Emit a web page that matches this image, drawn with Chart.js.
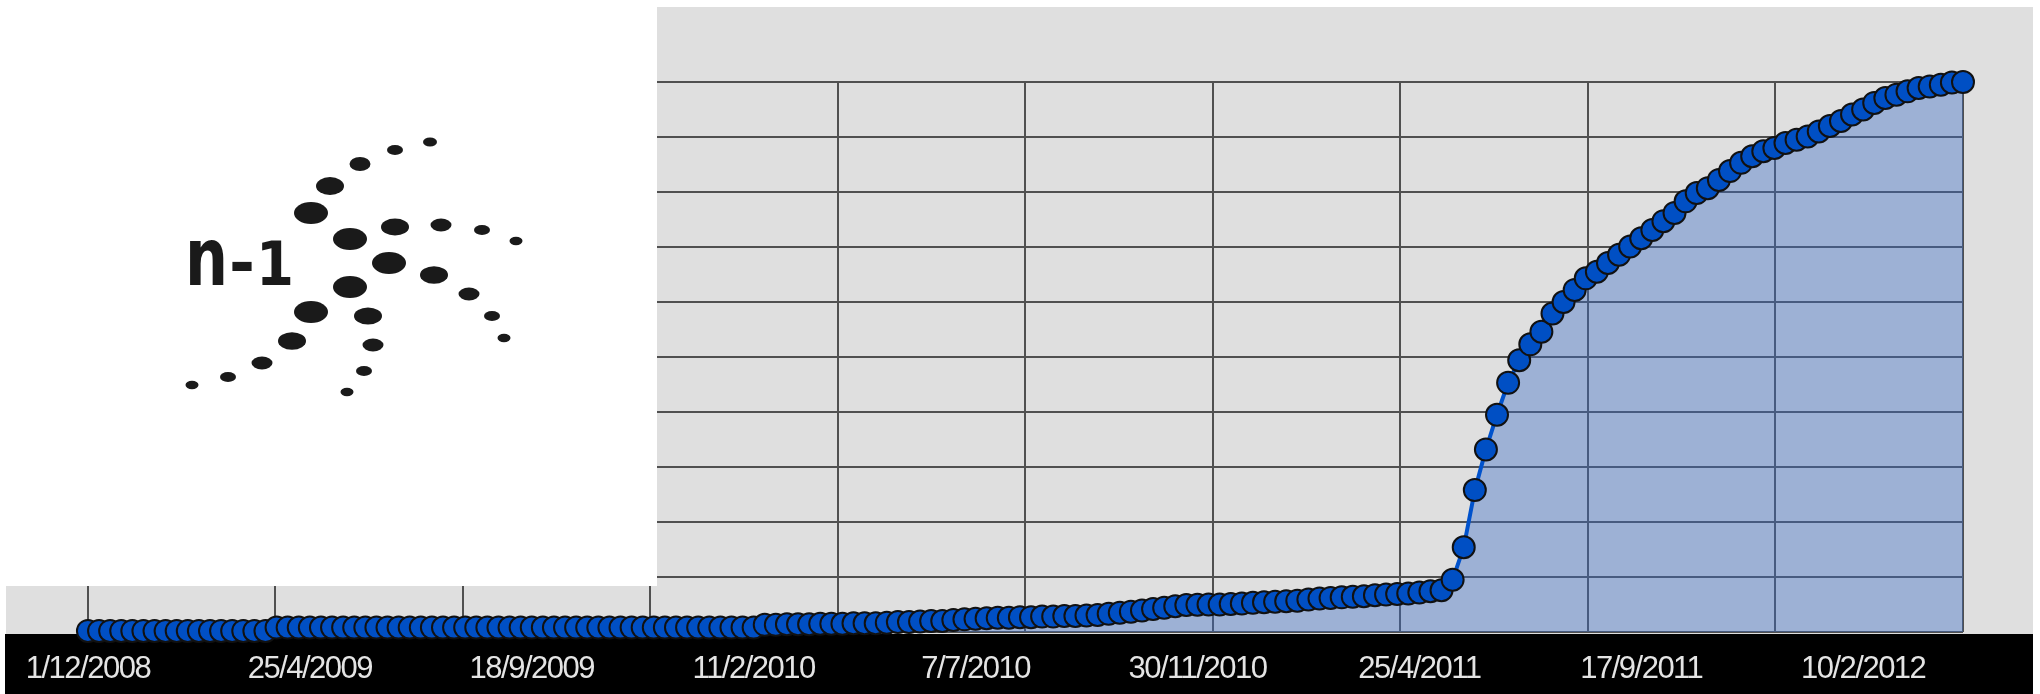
<!DOCTYPE html>
<html>
<head>
<meta charset="utf-8">
<title>n-1</title>
<script src="https://cdn.jsdelivr.net/npm/chart.js@4.4.1/dist/chart.umd.min.js"></script>
<style>
  html, body { margin: 0; padding: 0; background: #fff; }
  #wrap { position: relative; width: 2040px; height: 694px; overflow: hidden; }
  #chart { position: absolute; left: 0; top: 0; }
  #logo { position: absolute; left: 0; top: 0; width: 657px; height: 586px; background: #fff; }
</style>
</head>
<body>
<div id="wrap">
  <canvas id="chart" width="2040" height="694"></canvas>
  <div id="logo">
    <svg width="657" height="586" viewBox="0 0 657 586" xmlns="http://www.w3.org/2000/svg">
      <g fill="#1a1a1a" font-family="DejaVu Sans" font-weight="bold">
        <text x="185" y="285" font-size="80" textLength="43" lengthAdjust="spacingAndGlyphs">n</text>
        <text x="229" y="285" font-size="64" textLength="26" lengthAdjust="spacingAndGlyphs">-</text>
        <text x="256" y="285" font-size="60" textLength="38" lengthAdjust="spacingAndGlyphs">1</text>
      </g>
      <g fill="#1a1a1a">
        <ellipse cx="430" cy="142" rx="7" ry="4.5"/>
        <ellipse cx="395" cy="150" rx="8" ry="5"/>
        <ellipse cx="360" cy="164" rx="10.5" ry="7"/>
        <ellipse cx="330" cy="186" rx="14" ry="9"/>
        <ellipse cx="311" cy="213" rx="17" ry="11"/>
        <ellipse cx="350" cy="239" rx="17" ry="11"/>
        <ellipse cx="395" cy="227" rx="14" ry="8.5"/>
        <ellipse cx="441" cy="225" rx="10.5" ry="6.5"/>
        <ellipse cx="482" cy="230" rx="8" ry="5"/>
        <ellipse cx="516" cy="241" rx="6.5" ry="4.2"/>
        <ellipse cx="389" cy="263" rx="17" ry="11"/>
        <ellipse cx="434" cy="275" rx="14" ry="8.8"/>
        <ellipse cx="469" cy="294" rx="10.5" ry="6.5"/>
        <ellipse cx="492" cy="316" rx="8" ry="5"/>
        <ellipse cx="504" cy="338" rx="6.5" ry="4.2"/>
        <ellipse cx="350" cy="287" rx="17" ry="11"/>
        <ellipse cx="311" cy="312" rx="17" ry="11"/>
        <ellipse cx="368" cy="316" rx="14" ry="8.6"/>
        <ellipse cx="292" cy="341" rx="14" ry="8.8"/>
        <ellipse cx="373" cy="345" rx="10.5" ry="6.5"/>
        <ellipse cx="262" cy="363" rx="10.5" ry="6.5"/>
        <ellipse cx="364" cy="371" rx="8" ry="5"/>
        <ellipse cx="228" cy="377" rx="8" ry="5"/>
        <ellipse cx="192" cy="385" rx="6.5" ry="4.2"/>
        <ellipse cx="347" cy="392" rx="6.5" ry="4.2"/>
      </g>
    </svg>
  </div>
</div>
<script>
// x tick labels and the point index they sit on
const tickLabels = ['1/12/2008', '25/4/2009', '18/9/2009', '11/2/2010', '7/7/2010', '30/11/2010', '25/4/2011', '17/9/2011', '10/2/2012'];
const tickIndex = [0, 20, 40, 60, 80, 100, 120, 140, 160];

// cumulative series, one value per point (y grid = 0..100)
const values = [
  0.2, 0.2, 0.2, 0.2, 0.2, 0.2, 0.2, 0.2, 0.2, 0.2, 0.2, 0.2, 0.2, 0.2, 0.2, 0.2, 0.2,
  0.8, 0.8, 0.8, 0.8, 0.8, 0.8, 0.8, 0.8, 0.8, 0.8, 0.8, 0.8, 0.8, 0.8, 0.8, 0.8,
  0.8, 0.8, 0.8, 0.8, 0.8, 0.8, 0.8, 0.8, 0.8, 0.8, 0.8, 0.8, 0.8, 0.8, 0.8, 0.8,
  0.8, 0.8, 0.8, 0.8, 0.8, 0.8, 0.8, 0.8, 0.8, 0.8, 0.8, 0.8,
  1.3, 1.3, 1.4, 1.4, 1.4, 1.5, 1.5, 1.5, 1.6, 1.6, 1.6, 1.7,
  1.8, 1.8, 1.9, 2.0, 2.0, 2.2, 2.3, 2.4, 2.5,
  2.6, 2.6, 2.7, 2.7, 2.8, 2.8, 2.9, 2.9, 3.0,
  3.1, 3.3, 3.5, 3.7, 3.9, 4.2, 4.4, 4.7, 4.9,
  4.95, 5.0, 5.0, 5.1, 5.2, 5.3, 5.4, 5.5, 5.6, 5.7, 5.9, 6.1, 6.2, 6.3, 6.4, 6.5,
  6.7, 6.8, 6.9, 7.0, 7.2, 7.4, 7.6,
  9.5, 15.4, 25.8, 33.2, 39.5, 45.3, 49.4, 52.3, 54.6, 57.9, 60.0, 62.2, 64.3, 65.5,
  67.1, 68.6, 70.1, 71.6, 73.1, 74.7, 76.2, 78.3, 79.8, 80.7, 82.2, 83.8, 85.3, 86.5,
  87.4, 88.0, 88.9, 89.5, 90.1, 91.0, 92.0, 92.9, 94.1, 95.0, 96.2, 97.1, 97.7, 98.3,
  98.9, 99.2, 99.5, 99.9, 100
];

const backdrop = {
  id: 'backdrop',
  beforeDraw(chart) {
    const ctx = chart.ctx;
    const area = chart.chartArea;
    ctx.save();
    ctx.fillStyle = '#fff';
    ctx.fillRect(0, 0, chart.width, chart.height);
    ctx.fillStyle = '#dfdfdf';
    ctx.fillRect(6, 7, chart.width - 13, area.bottom - 5);
    ctx.fillStyle = '#000';
    ctx.fillRect(5, area.bottom + 2, chart.width - 12, chart.height - area.bottom - 2);
    ctx.restore();
    // the date labels are set narrow, like the original
    ctx.letterSpacing = '-1.5px';
  },
  afterDraw(chart) {
    chart.ctx.letterSpacing = '0px';
  }
};

const gridLine = { color: '#505050', lineWidth: 2, drawTicks: false };

new Chart(document.getElementById('chart'), {
  type: 'line',
  data: {
    datasets: [{
      data: values.map((v, i) => ({ x: i, y: v })),
      borderColor: '#0052cc',
      borderWidth: 4,
      backgroundColor: 'rgba(58, 108, 198, 0.4)',
      fill: 'origin',
      tension: 0,
      pointRadius: 11,
      pointBackgroundColor: '#004fc4',
      pointBorderColor: '#111',
      pointBorderWidth: 2,
      clip: false
    }]
  },
  options: {
    responsive: false,
    animation: false,
    devicePixelRatio: 1,
    layout: { padding: { left: 87, right: 77, top: 82, bottom: 0 } },
    plugins: { legend: { display: false }, tooltip: { enabled: false } },
    scales: {
      y: {
        min: 0, max: 100,
        ticks: { display: false, stepSize: 10 },
        grid: gridLine,
        border: { display: false },
        afterFit: (s) => { s.width = 0; }
      },
      xg: {
        type: 'linear', position: 'bottom',
        min: 0, max: values.length - 1,
        ticks: { display: false, count: 11 },
        grid: gridLine,
        border: { display: false },
        afterFit: (s) => { s.height = 0; }
      },
      x: {
        type: 'linear', position: 'bottom',
        min: 0, max: values.length - 1,
        afterBuildTicks: (s) => { s.ticks = tickIndex.map((v) => ({ value: v })); },
        ticks: {
          autoSkip: false, maxRotation: 0, padding: 19,
          color: '#e4e4e4',
          font: { family: "'Liberation Sans', Arial, sans-serif", size: 31 },
          callback: (v) => tickLabels[tickIndex.indexOf(v)]
        },
        grid: { display: false, drawTicks: false },
        border: { display: false },
        afterFit: (s) => { s.height = 62; }
      }
    }
  },
  plugins: [backdrop]
});
</script>
</body>
</html>
